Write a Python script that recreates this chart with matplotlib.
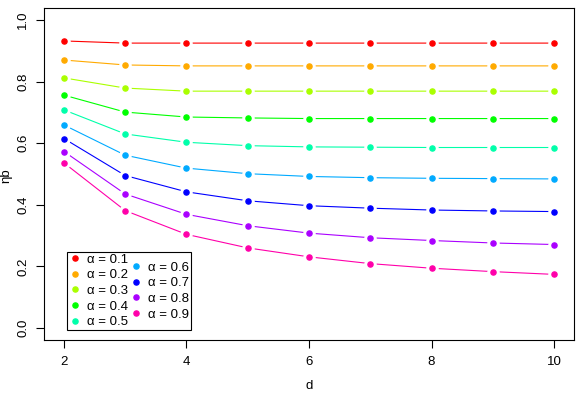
import numpy as np
import matplotlib
matplotlib.use('Agg')
import matplotlib.pyplot as plt
from matplotlib.lines import Line2D
from matplotlib.patches import Rectangle

# data
d = [2, 3, 4, 5, 6, 7, 8, 9, 10]
alphas = [0.1, 0.2, 0.3, 0.4, 0.5, 0.6, 0.7, 0.8, 0.9]
eta = [
    [0.932, 0.925, 0.925, 0.925, 0.925, 0.925, 0.925, 0.925, 0.925],
    [0.870, 0.854, 0.851, 0.851, 0.851, 0.851, 0.851, 0.851, 0.851],
    [0.812, 0.779, 0.769, 0.769, 0.769, 0.769, 0.769, 0.769, 0.769],
    [0.756, 0.701, 0.685, 0.682, 0.680, 0.680, 0.680, 0.680, 0.680],
    [0.708, 0.630, 0.603, 0.592, 0.588, 0.587, 0.586, 0.586, 0.586],
    [0.659, 0.561, 0.519, 0.501, 0.492, 0.488, 0.486, 0.485, 0.484],
    [0.615, 0.495, 0.442, 0.413, 0.397, 0.389, 0.383, 0.380, 0.378],
    [0.573, 0.435, 0.369, 0.332, 0.308, 0.293, 0.284, 0.276, 0.271],
    [0.536, 0.381, 0.304, 0.260, 0.231, 0.209, 0.194, 0.183, 0.174],
]
colors = ['#FF0000', '#FFAA00', '#AAFF00', '#00FF00', '#00FFAA',
          '#00AAFF', '#0000FF', '#AA00FF', '#FF00AA']

plt.rcParams['font.family'] = ['Liberation Sans', 'DejaVu Sans']

fig = plt.figure(figsize=(5.78, 3.94), dpi=100)
ax = fig.add_axes([0.0768, 0.1363, 0.9156, 0.8442])

# R type="b": lines broken around the points
for vals, col in zip(eta, colors):
    ax.plot(d, vals, color=col, lw=0.8, zorder=2)
    ax.plot(d, vals, ls='none', marker='o', ms=8, mfc='white', mec='white', zorder=3)
    ax.plot(d, vals, ls='none', marker='o', ms=3.7, mfc=col, mec=col, zorder=4)

ax.set_xlim(1.68, 10.32)
ax.set_ylim(-0.04, 1.04)
ax.set_xticks([2, 4, 6, 8, 10])
ax.set_yticks([0.0, 0.2, 0.4, 0.6, 0.8, 1.0])
ax.set_yticklabels(['0.0', '0.2', '0.4', '0.6', '0.8', '1.0'], rotation=90, va='center')
ax.tick_params(direction='out', length=6, width=0.8, labelsize=9.5, colors='black', pad=5)
for s in ax.spines.values():
    s.set_linewidth(0.8)
ax.set_xlabel('d', fontsize=9.5, labelpad=9)
fig.text(0.001, 0.555, 'ηb', rotation=90, fontsize=9.5, va='center', ha='left')

# legend: two columns, second offset by half a row, one shared frame
def handles(idx):
    return [Line2D([], [], ls='none', marker='o', ms=3.7, color=colors[i]) for i in idx]

labs = ['α = %.1f' % a for a in alphas]
kw = dict(frameon=False, fontsize=9.5, handlelength=0.8, handletextpad=0.5,
          labelspacing=0.26, borderpad=0.15)
leg1 = ax.legend(handles(range(5)), labs[:5], loc='lower left',
                 bbox_to_anchor=(0.031, 0.01), **kw)
ax.add_artist(leg1)
leg2 = ax.legend(handles(range(5, 9)), labs[5:], loc='lower left',
                 bbox_to_anchor=(0.147, 0.033), **kw)

fig.canvas.draw()
r = fig.canvas.get_renderer()
b1 = leg1.get_window_extent(r)
b2 = leg2.get_window_extent(r)
x0, y0 = min(b1.x0, b2.x0), min(b1.y0, b2.y0)
x1, y1 = max(b1.x1, b2.x1), max(b1.y1, b2.y1)
W, H = fig.bbox.width, fig.bbox.height
fig.patches.append(Rectangle((x0 / W, y0 / H), (x1 - x0) / W, (y1 - y0) / H,
                             transform=fig.transFigure, fill=False,
                             edgecolor='black', lw=0.8, zorder=5))

fig.savefig('out.png', dpi=100)
